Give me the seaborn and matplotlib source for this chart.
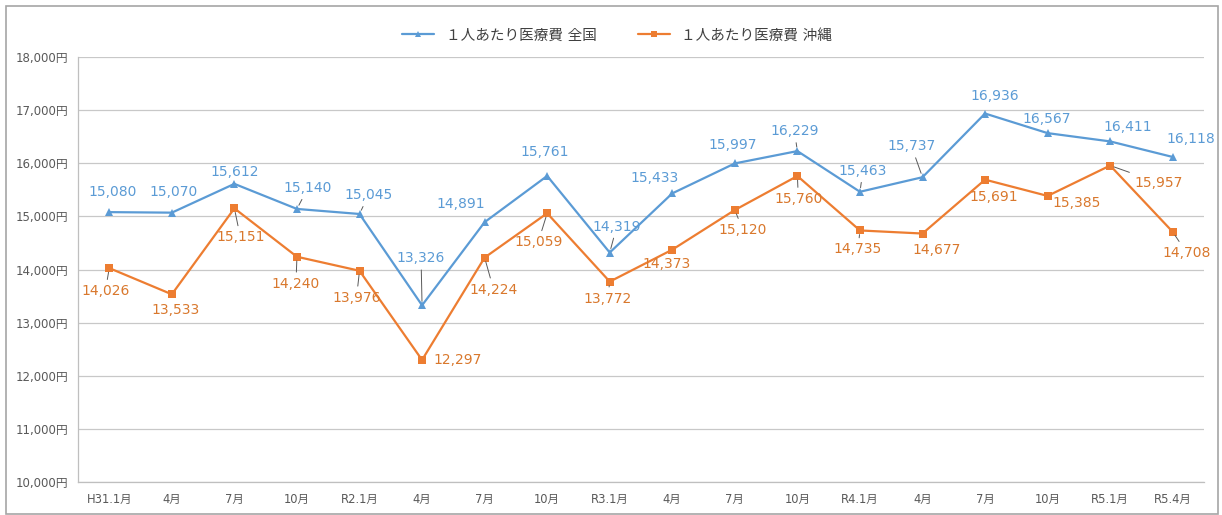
import matplotlib
matplotlib.use("Agg")
import matplotlib.pyplot as plt
import seaborn as sns
import pandas as pd
from matplotlib.patches import Rectangle
from matplotlib.lines import Line2D

# ---- data ----
periods = ["H31.1月", "4月", "7月", "10月", "R2.1月", "4月", "7月", "10月", "R3.1月",
           "4月", "7月", "10月", "R4.1月", "4月", "7月", "10月", "R5.1月", "R5.4月"]
national = [15080, 15070, 15612, 15140, 15045, 13326, 14891, 15761, 14319,
            15433, 15997, 16229, 15463, 15737, 16936, 16567, 16411, 16118]
okinawa = [14026, 13533, 15151, 14240, 13976, 12297, 14224, 15059, 13772,
           14373, 15120, 15760, 14735, 14677, 15691, 15385, 15957, 14708]
series_names = ["１人あたり医療費 全国", "１人あたり医療費 沖縄"]
y_ticks = list(range(10000, 18001, 1000))

# ---- label placement (pixels, up positive) and leader flags ----
nat_off = [(3, 20), (2, 21), (0, 12), (11, 21), (9, 19), (-1, 47), (-24, 18), (-2, 24), (7, 26),
           (-18, 15), (-2, 18), (-3, 20), (3, 21), (-11, 31), (10, 18), (-1, 14), (18, 14), (18, 18)]
nat_lead = [0, 0, 0, 1, 1, 1, 0, 0, 1, 0, 0, 1, 1, 1, 0, 0, 0, 0]
oki_off = [(-4, -23), (4, -16), (6, -29), (-1, -27), (-3, -27), (36, 0), (9, -32), (-9, -29), (-2, -17),
           (-6, -14), (8, -20), (1, -23), (-2, -19), (14, -16), (9, -17), (29, -7), (48, -17), (14, -21)]
oki_lead = [1, 0, 1, 1, 1, 0, 1, 1, 1, 0, 1, 1, 1, 0, 0, 0, 1, 1]

BLUE = "#5B9BD5"
ORANGE = "#ED7D31"
BLUE_TXT = "#5B9BD5"
ORANGE_TXT = "#D9782D"

sns.set_theme(style="white")
plt.rcParams["font.family"] = ["DejaVu Sans", "Noto Sans CJK JP"]

idx = list(range(len(periods)))
df = pd.DataFrame({
    "idx": idx * 2,
    "value": national + okinawa,
    "series": [series_names[0]] * len(idx) + [series_names[1]] * len(idx),
})

fig = plt.figure(figsize=(12.22, 5.15), dpi=100)
ax = fig.add_axes([78 / 1222, 1 - 482 / 515, (1204 - 78) / 1222, (482 - 57) / 515])

sns.lineplot(data=df, x="idx", y="value", hue="series", style="series",
             markers={series_names[0]: "^", series_names[1]: "s"}, dashes=False,
             palette={series_names[0]: BLUE, series_names[1]: ORANGE},
             linewidth=1.6, markersize=5.5, markeredgewidth=0, ax=ax, legend=False)

ax.set_xlim(-0.5, len(periods) - 0.5)
ax.set_ylim(10000, 18000)
ax.set_yticks(y_ticks)
ax.set_yticklabels([f"{v:,}円" for v in y_ticks], fontsize=8.5, color="#595959")
ax.set_xticks(idx)
ax.set_xticklabels(periods, fontsize=8.3, color="#595959")
ax.set_xticks([i - 0.5 for i in range(len(periods) + 1)], minor=True)
ax.tick_params(axis="x", which="major", length=0, pad=8)
ax.tick_params(axis="x", which="minor", length=4, color="#BFBFBF", width=0.8, direction="out")
ax.tick_params(axis="y", which="major", length=4, color="#BFBFBF", width=0.8, direction="out", pad=3)
ax.set_xlabel("")
ax.set_ylabel("")
ax.grid(axis="y", color="#C8C8C8", linewidth=0.9)
ax.grid(axis="x", visible=False)
for s in ["top", "right"]:
    ax.spines[s].set_visible(False)
for s in ["left", "bottom"]:
    ax.spines[s].set_color("#BFBFBF")
    ax.spines[s].set_linewidth(0.9)


def put_labels(vals, offs, leads, color):
    for i, (v, (dx, dy), ld) in enumerate(zip(vals, offs, leads)):
        kw = {}
        if ld:
            kw["arrowprops"] = dict(arrowstyle="-", color="#595959", lw=0.7,
                                    shrinkA=1, shrinkB=3)
        ax.annotate(f"{v:,}", xy=(i, v), xytext=(dx, dy), textcoords="offset pixels",
                    ha="center", va="center", fontsize=10, color=color, **kw)


put_labels(national, nat_off, nat_lead, BLUE_TXT)
put_labels(okinawa, oki_off, oki_lead, ORANGE_TXT)

handles = [Line2D([], [], color=BLUE, marker="^", markersize=5, lw=1.6, markeredgewidth=0),
           Line2D([], [], color=ORANGE, marker="s", markersize=5, lw=1.6, markeredgewidth=0)]
fig.legend(handles, series_names, loc="center", bbox_to_anchor=(0.505, 1 - 35 / 515),
           ncol=2, frameon=False, fontsize=10.5, handlelength=2.2, columnspacing=2.8,
           labelcolor="#404040")

fig.patches.append(Rectangle((6 / 1222, 0.002), 1212 / 1222, 1 - 6 / 515 - 0.002,
                             transform=fig.transFigure, fill=False,
                             edgecolor="#A6A6A6", linewidth=1.2))

fig.savefig("out.png", dpi=100)
